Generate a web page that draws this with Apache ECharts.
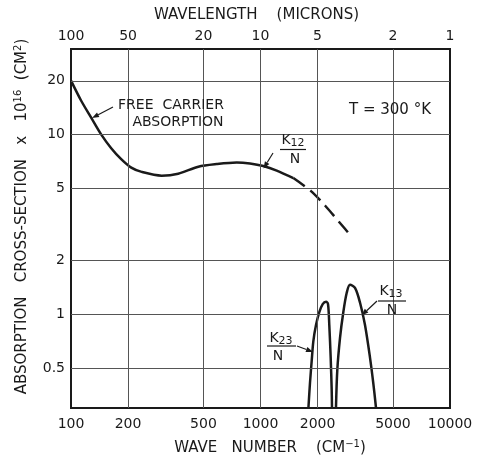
<!DOCTYPE html>
<html>
<head>
<meta charset="utf-8">
<script src="https://cdn.jsdelivr.net/npm/echarts@6/dist/echarts.min.js"></script>
<style>html,body{margin:0;padding:0;background:#fff}#chart{width:481px;height:461px}</style>
</head>
<body>
<div id="chart"></div>
<script>
// tick values
const waveTicks = [100, 200, 500, 1000, 2000, 5000, 10000];
const micronTicks = [100, 50, 20, 10, 5, 2, 1];
const sigmaTicks = [0.5, 1, 2, 5, 10, 20];

// free carrier absorption + K12/N (solid part)
const freeWave = [100, 113, 128, 144.5, 163, 184, 208, 236, 301, 368, 470, 587, 749, 880, 1035, 1218, 1490];
const freeSigma = [20, 15.5, 12.4, 10.0, 8.4, 7.3, 6.55, 6.2, 5.91, 6.06, 6.63, 6.86, 7.0, 6.91, 6.69, 6.31, 5.73];
// K12/N extrapolated (dashed)
const k12Wave = [1490, 1841, 2189, 2627, 2967];
const k12Sigma = [5.73, 4.86, 4.03, 3.22, 2.77];
// K23/N
const k23Wave = [1790, 1824, 1863, 1900, 1963, 2043, 2129, 2217, 2271, 2307, 2346, 2375, 2384];
const k23Sigma = [0.3, 0.412, 0.55, 0.706, 0.869, 1.025, 1.137, 1.171, 1.137, 0.869, 0.573, 0.379, 0.3];
// K13/N
const k13Wave = [2502, 2542, 2627, 2735, 2851, 2967, 3153, 3350, 3560, 3783, 3938, 4070];
const k13Sigma = [0.3, 0.486, 0.735, 1.025, 1.315, 1.458, 1.40, 1.161, 0.869, 0.573, 0.412, 0.3];

const FONT = '"DejaVu Sans", sans-serif';
const INK = '#1a1a1a';
const lg = Math.log10;
const pair = (xs, ys) => xs.map((x, i) => [lg(x), lg(ys[i])]);
const pick = (ticks, labels) => v => {
    const i = ticks.findIndex(t => Math.abs(lg(t) - v) < 1e-6);
    return i < 0 ? '' : String(labels[i]);
};
const rich = {
    a: { fontSize: 15, fontFamily: FONT, color: INK },
    s: { fontSize: 10, fontFamily: FONT, color: INK, padding: [0, 0, 9, 0] }
};

function arrow(x1, y1, x2, y2) {
    const a = Math.atan2(y2 - y1, x2 - x1), L = 7, W = 2.6;
    const bx = x2 - L * Math.cos(a), by = y2 - L * Math.sin(a);
    const nx = -Math.sin(a) * W, ny = Math.cos(a) * W;
    return [
        { type: 'line', z: 100, shape: { x1: x1, y1: y1, x2: bx, y2: by }, style: { stroke: INK, lineWidth: 1.2 } },
        { type: 'polygon', z: 100, shape: { points: [[x2, y2], [bx + nx, by + ny], [bx - nx, by - ny]] }, style: { fill: INK } }
    ];
}
function text(x, y, str, size) {
    return { type: 'text', z: 100, x: x, y: y,
        style: { text: str, fontSize: size || 14, fontFamily: FONT, fill: INK, align: 'center', verticalAlign: 'middle' } };
}
function sub(x, y, main, idx) {
    return { type: 'text', z: 100, x: x, y: y,
        style: { text: '{k|' + main + '}{i|' + idx + '}', align: 'center', verticalAlign: 'middle', fill: INK,
            rich: { k: { fontSize: 14, fontFamily: FONT, color: INK },
                    i: { fontSize: 11, fontFamily: FONT, color: INK, padding: [6, 0, 0, 0] } } } };
}
function bar(x1, x2, y) {
    return { type: 'line', z: 100, shape: { x1: x1, y1: y, x2: x2, y2: y }, style: { stroke: INK, lineWidth: 1.2 } };
}

const chart = echarts.init(document.getElementById('chart'));
const curve = { color: INK, width: 2.5 };

chart.setOption({
    animation: false,
    backgroundColor: '#fff',
    grid: { left: 71, right: 31, top: 49, bottom: 44, show: true, borderColor: INK, borderWidth: 2 },
    xAxis: [{
        type: 'value', min: 2, max: 4, position: 'bottom',
        axisLine: { show: false }, axisTick: { show: false }, splitLine: { show: false },
        axisLabel: { customValues: waveTicks.map(lg), formatter: pick(waveTicks, waveTicks),
            fontFamily: FONT, fontSize: 14, color: INK, margin: 9 },
        name: '{a|WAVE   NUMBER    (CM}{s|−1}{a|)}', nameLocation: 'middle', nameGap: 31,
        nameTextStyle: { rich: rich, padding: [0, 0, 0, 19] }
    }, {
        type: 'value', min: 2, max: 4, position: 'top',
        axisLine: { show: false }, axisTick: { show: false }, splitLine: { show: false },
        axisLabel: { customValues: waveTicks.map(lg), formatter: pick(waveTicks, micronTicks),
            fontFamily: FONT, fontSize: 14, color: INK, margin: 6 },
        name: 'WAVELENGTH    (MICRONS)', nameLocation: 'middle', nameGap: 26,
        nameTextStyle: { fontFamily: FONT, fontSize: 15, color: INK, padding: [0, 8, 0, 0] }
    }],
    yAxis: {
        type: 'value', min: lg(0.3), max: lg(30),
        axisLine: { show: false }, axisTick: { show: false }, splitLine: { show: false },
        axisLabel: { customValues: sigmaTicks.map(lg), formatter: pick(sigmaTicks, sigmaTicks),
            fontFamily: FONT, fontSize: 14, color: INK, margin: 6 },
        name: '{a|ABSORPTION   CROSS-SECTION   x   10}{s|16}{a|  (CM}{s|2}{a|)}',
        nameLocation: 'middle', nameGap: 39,
        nameTextStyle: { rich: rich, padding: [0, 0, 0, 24] }
    },
    series: [{
        type: 'line', data: [], silent: true,
        markLine: {
            silent: true, symbol: 'none', label: { show: false }, animation: false,
            lineStyle: { color: '#555', width: 1, type: 'solid' },
            data: waveTicks.slice(1, -1).map(w => ({ xAxis: lg(w) }))
                .concat(sigmaTicks.map(s => ({ yAxis: lg(s) })))
        }
    }, {
        type: 'line', data: pair(freeWave, freeSigma), smooth: 0.3, symbol: 'none', lineStyle: curve, clip: true
    }, {
        type: 'line', data: pair(k12Wave, k12Sigma), smooth: 0.3, symbol: 'none',
        lineStyle: { color: INK, width: 2.5, type: [14, 7] }, clip: true
    }, {
        type: 'line', data: pair(k23Wave, k23Sigma), smooth: 0.3, symbol: 'none', lineStyle: curve, clip: true
    }, {
        type: 'line', data: pair(k13Wave, k13Sigma), smooth: 0.3, symbol: 'none', lineStyle: curve, clip: true
    }],
    graphic: [
        text(171, 105, 'FREE  CARRIER'),
        text(178, 122, 'ABSORPTION'),
        ...arrow(113, 107, 92, 118),
        text(390, 110, 'T = 300 °K', 15),
        sub(293, 140, 'K', '12'), bar(280, 306, 149.5), text(295, 159, 'N'),
        ...arrow(273, 153, 263.5, 168.5),
        sub(281, 338, 'K', '23'), bar(267, 296, 346), text(278, 356, 'N'),
        ...arrow(297, 346, 313, 352),
        sub(391, 291, 'K', '13'), bar(378, 406, 301), text(392, 310, 'N'),
        ...arrow(377, 301, 361.5, 315.5)
    ]
});
</script>
</body>
</html>
